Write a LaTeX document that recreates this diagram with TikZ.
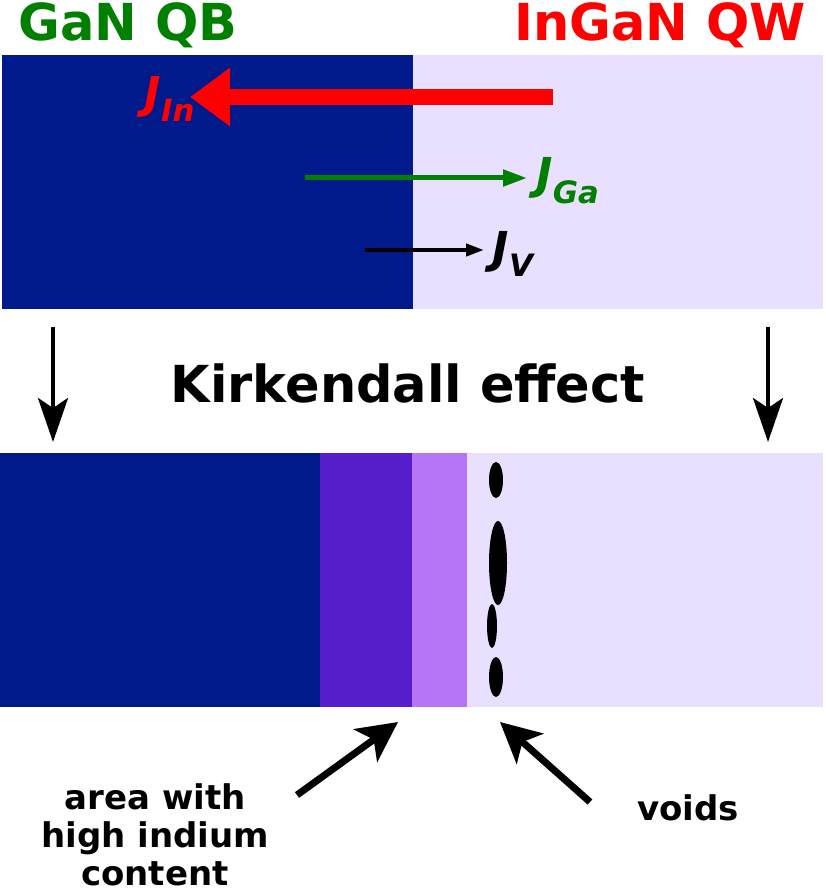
\documentclass[tikz,border=0pt]{standalone}
\usepackage{fontspec}
\setmainfont{DejaVu Sans}
\usetikzlibrary{arrows.meta}
\definecolor{dblue}{HTML}{001A8C}
\definecolor{lav}{HTML}{E9DFFF}
\definecolor{mpur}{HTML}{561DCB}
\definecolor{lpur}{HTML}{B674F6}
\definecolor{dgreen}{HTML}{007F00}
\tikzset{lbl/.style={font=\bfseries\fontsize{34}{38}\selectfont, align=center, inner sep=0pt},
 jl/.style={font=\bfseries\itshape\fontsize{44}{44}\selectfont, inner sep=0pt},
 void/.style={fill=black},
 dn/.style={line width=4, -{Stealth[length=44,width=30,inset=10]}}}
\begin{document}
\begin{tikzpicture}[x=1pt,y=-1pt]
\useasboundingbox (0,0) rectangle (825,893);
\fill[dblue] (2,55) rectangle (413,309);
\fill[lav] (413,55) rectangle (823,309);
\fill[dblue] (0,453) rectangle (320,707);
\fill[mpur] (320,453) rectangle (412,707);
\fill[lpur] (412,453) rectangle (467,707);
\fill[lav] (467,453) rectangle (823,707);
\fill[void] (496,480) ellipse (7 and 18);
\fill[void] (498,563) ellipse (9 and 42);
\fill[void] (492,626) ellipse (5 and 22);
\fill[void] (496,677) ellipse (7 and 20);
\node[font=\bfseries\fontsize{51}{51}\selectfont, text=dgreen, inner sep=0pt] (gan) at (128,25) {GaN QB};
\node[font=\bfseries\fontsize{51}{51}\selectfont, text=red, inner sep=0pt] (ingan) at (660,25) {InGaN QW};
\node[font=\bfseries\fontsize{51}{51}\selectfont] (kirk) at (408,383) {Kirkendall effect};
\node[jl, text=red] (jin) at (170,99) {J\textsubscript{In}};
\coordinate (rs) at (553,97); \coordinate (re) at (190,97);
\draw[red, line width=16, -{Triangle[length=40,width=56]}] (rs) -- (re);
\node[jl, text=dgreen] (jga) at (568,181) {J\textsubscript{Ga}};
\coordinate (gs) at (305,178); \coordinate (ge) at (527,178);
\draw[dgreen, line width=5, -{Triangle[length=24,width=16]}] (gs) -- (ge);
\node[jl] (jv) at (513,254) {J\textsubscript{V}};
\coordinate (vs) at (365,250); \coordinate (ve) at (484,250);
\draw[line width=4, -{Triangle[length=18,width=12]}] (vs) -- (ve);
\coordinate (d1a) at (53,327); \coordinate (d1b) at (53,442);
\coordinate (d2a) at (768,327); \coordinate (d2b) at (768,442);
\draw[dn] (d1a) -- (d1b);
\draw[dn] (d2a) -- (d2b);
\node[lbl] (area) at (155,835) {area with\\high indium\\content};
\node[lbl] (voids) at (688,808) {voids};
\coordinate (a1) at (297,795); \coordinate (a2) at (398,722);
\coordinate (b1) at (590,802); \coordinate (b2) at (500,722);
\draw[line width=7, -{Stealth[length=40,width=40,inset=10]}] (a1) -- (a2);
\draw[line width=7, -{Stealth[length=40,width=40,inset=10]}] (b1) -- (b2);
\end{tikzpicture}
\end{document}
